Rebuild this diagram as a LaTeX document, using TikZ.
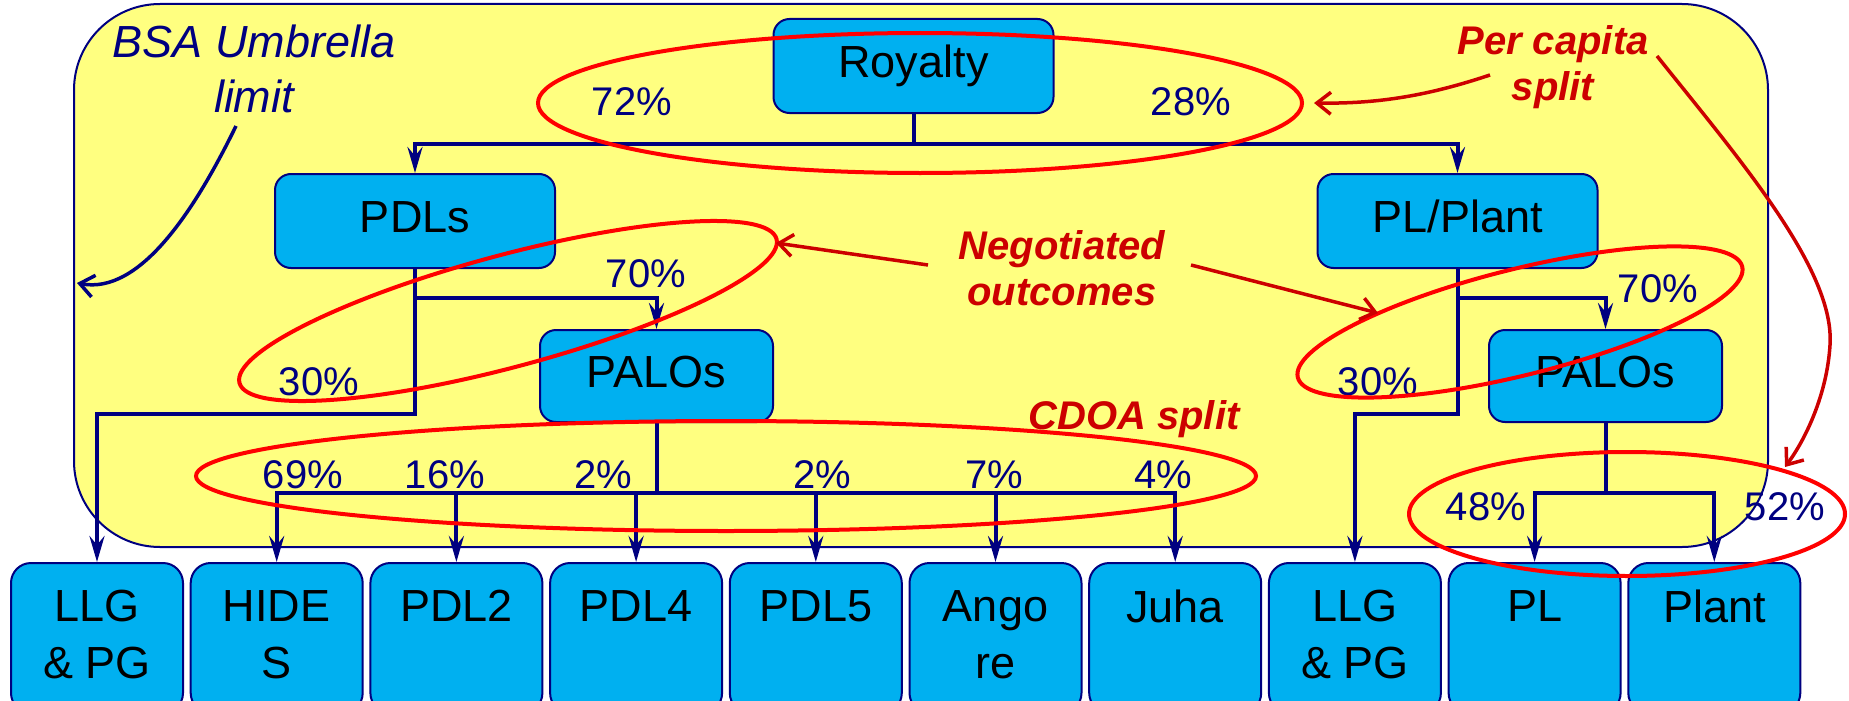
\documentclass[tikz,border=0pt]{standalone}
\usepackage{fontspec}
\setmainfont{Liberation Sans}
\usetikzlibrary{arrows.meta}
\definecolor{ylwfill}{HTML}{FFFF80}
\definecolor{boxcyan}{HTML}{00B0F0}
\definecolor{navyc}{HTML}{000080}
\definecolor{ellred}{HTML}{FF0000}
\definecolor{txtred}{HTML}{CC0000}
\newcommand\fntbox{\fontsize{45}{57}\selectfont}
\newcommand\fntpct{\fontsize{40}{48}\selectfont}
\newcommand\fntred{\fontsize{40}{46}\selectfont\bfseries\itshape}
\newcommand\fntbsa{\fontsize{45}{55}\selectfont\itshape}
\begin{document}
\begin{tikzpicture}[x=1pt,y=-1pt,
  topbox/.style={draw=navyc, line width=2pt, fill=boxcyan, rounded corners=16pt, inner sep=0pt, minimum width=280pt, minimum height=94pt, font=\fntbox, text height=32pt, text depth=9pt},
  palbox/.style={topbox, minimum width=233pt, minimum height=92pt},
  botbox/.style={draw=navyc, line width=2pt, fill=boxcyan, rounded corners=20pt, inner sep=0pt, minimum width=172pt, minimum height=150pt, anchor=north},
  bottxt/.style={font=\fntbox, align=center, inner sep=0pt, anchor=north},
  conn/.style={draw=navyc, line width=4pt},
  arr/.style={conn, -{Stealth[length=26pt, width=15pt, inset=9pt]}},
  pct/.style={text=navyc, font=\fntpct, inner sep=0pt, anchor=base},
  redlbl/.style={text=txtred, font=\fntred, align=center, inner sep=0pt, anchor=north},
  bsalbl/.style={text=navyc, font=\fntbsa, align=center, inner sep=0pt, anchor=north},
  ring/.style={draw=ellred, line width=4pt},
  redarr/.style={draw=txtred, line width=3.5pt, -{Straight Barb[length=14pt, width=22pt]}},
  bluearr/.style={draw=navyc, line width=3.5pt, -{Straight Barb[length=14pt, width=22pt]}},
]
\useasboundingbox (0,0) rectangle (1849,701);
% umbrella frame
\draw[draw=navyc, line width=2pt, fill=ylwfill, rounded corners=86pt] (74,4) rectangle (1768,547);

% boxes
\node[topbox] (roy) at (913.5,66) {Royalty};
\node[topbox] (pdls) at (415,221) {PDLs};
\node[topbox] (plp) at (1457.5,221) {PL/Plant};
\node[palbox] (pal1) at (656.5,376) {PALOs};
\node[palbox] (pal2) at (1605.5,376) {PALOs};
\foreach \i/\t in {1/{LLG\\\& PG},2/{HIDE\\S},3/PDL2,4/PDL4,5/PDL5,6/{Ango\\re},7/Juha,8/{LLG\\\& PG},9/PL,10/Plant} {
  \node[botbox] (b\i) at ({97+179.7*(\i-1)},562) {};
  \node[bottxt] (t\i) at ([yshift=-28pt]b\i.north) {\t};
}

% connectors
\draw[conn] (roy.south) -- ++(0,30) coordinate (rj);
\draw[arr] (rj) -| (pdls.north);
\draw[arr] (rj) -| (plp.north);
\draw[arr] (pdls.south) -- ++(0,145) -| (b1.north);
\draw[arr] (pdls.south) ++(0,29) -| (pal1.north);
\draw[conn] (pal1.south) -- ++(0,70) coordinate (bus1);
\foreach \i in {2,...,7} \draw[arr] (bus1) -| (b\i.north);
\draw[arr] (plp.south) -- ++(0,145) -| (b8.north);
\draw[arr] (plp.south) ++(0,29) -| (pal2.north);
\draw[conn] (pal2.south) -- ++(0,70) coordinate (bus2);
\draw[arr] (bus2) -| (b9.north);
\draw[arr] (bus2) -| (b10.north);

% percentages
\node[pct] (l72) at (632,115) {72\%};
\node[pct] (l28) at (1191,115) {28\%};
\node[pct] (l70a) at (646,287) {70\%};
\node[pct] (l30a) at (319,395) {30\%};
\node[pct] (l70b) at (1658,302) {70\%};
\node[pct] (l30b) at (1378,395) {30\%};
\node[pct] (l69) at (303,488) {69\%};
\node[pct] (l16) at (445,488) {16\%};
\node[pct] (l2a) at (603,488) {2\%};
\node[pct] (l2b) at (822,488) {2\%};
\node[pct] (l7) at (994,488) {7\%};
\node[pct] (l4) at (1163,488) {4\%};
\node[pct] (l48) at (1486,520) {48\%};
\node[pct] (l52) at (1785,520) {52\%};

% red rings
\draw[ring] (920,103) ellipse [x radius=382, y radius=70];
\draw[ring, rotate around={15:(508,311)}] (508,311) ellipse [x radius=278, y radius=56];
\draw[ring, rotate around={14:(1520,322)}] (1520,322) ellipse [x radius=229, y radius=53];
\draw[ring] (726,476) ellipse [x radius=530, y radius=55];
\draw[ring] (1627,514) ellipse [x radius=218, y radius=62];

% annotation arrows
\coordinate (negLs) at (928,265); \coordinate (negLe) at (776,243);
\draw[redarr] (negLs) -- (negLe);
\coordinate (negRs) at (1191,265); \coordinate (negRe) at (1378,313);
\draw[redarr] (negRs) -- (negRe);
\coordinate (pcAs) at (1490,75); \coordinate (pcAe) at (1314,103);
\draw[redarr] (pcAs) .. controls (1430,95) and (1380,104) .. (pcAe);
\coordinate (pcBs) at (1657,56); \coordinate (pcBm) at (1830,345); \coordinate (pcBe) at (1785,467);
\draw[redarr] (pcBs) .. controls (1740,160) and (1835,270) .. (pcBm) .. controls (1827,395) and (1805,440) .. (pcBe);
\coordinate (bsaS) at (236,126); \coordinate (bsaE) at (77,283);
\draw[bluearr] (bsaS) .. controls (195,210) and (140,295) .. (bsaE);

% labels
\node[bsalbl] (bsa) at (254,25) {BSA Umbrella\\limit};
\node[redlbl] (percap) at (1553,25) {Per capita\\split};
\node[redlbl] (negot) at (1062,230) {Negotiated\\outcomes};
\node[redlbl] (cdoa) at (1134,400) {CDOA split};
\end{tikzpicture}
\end{document}
